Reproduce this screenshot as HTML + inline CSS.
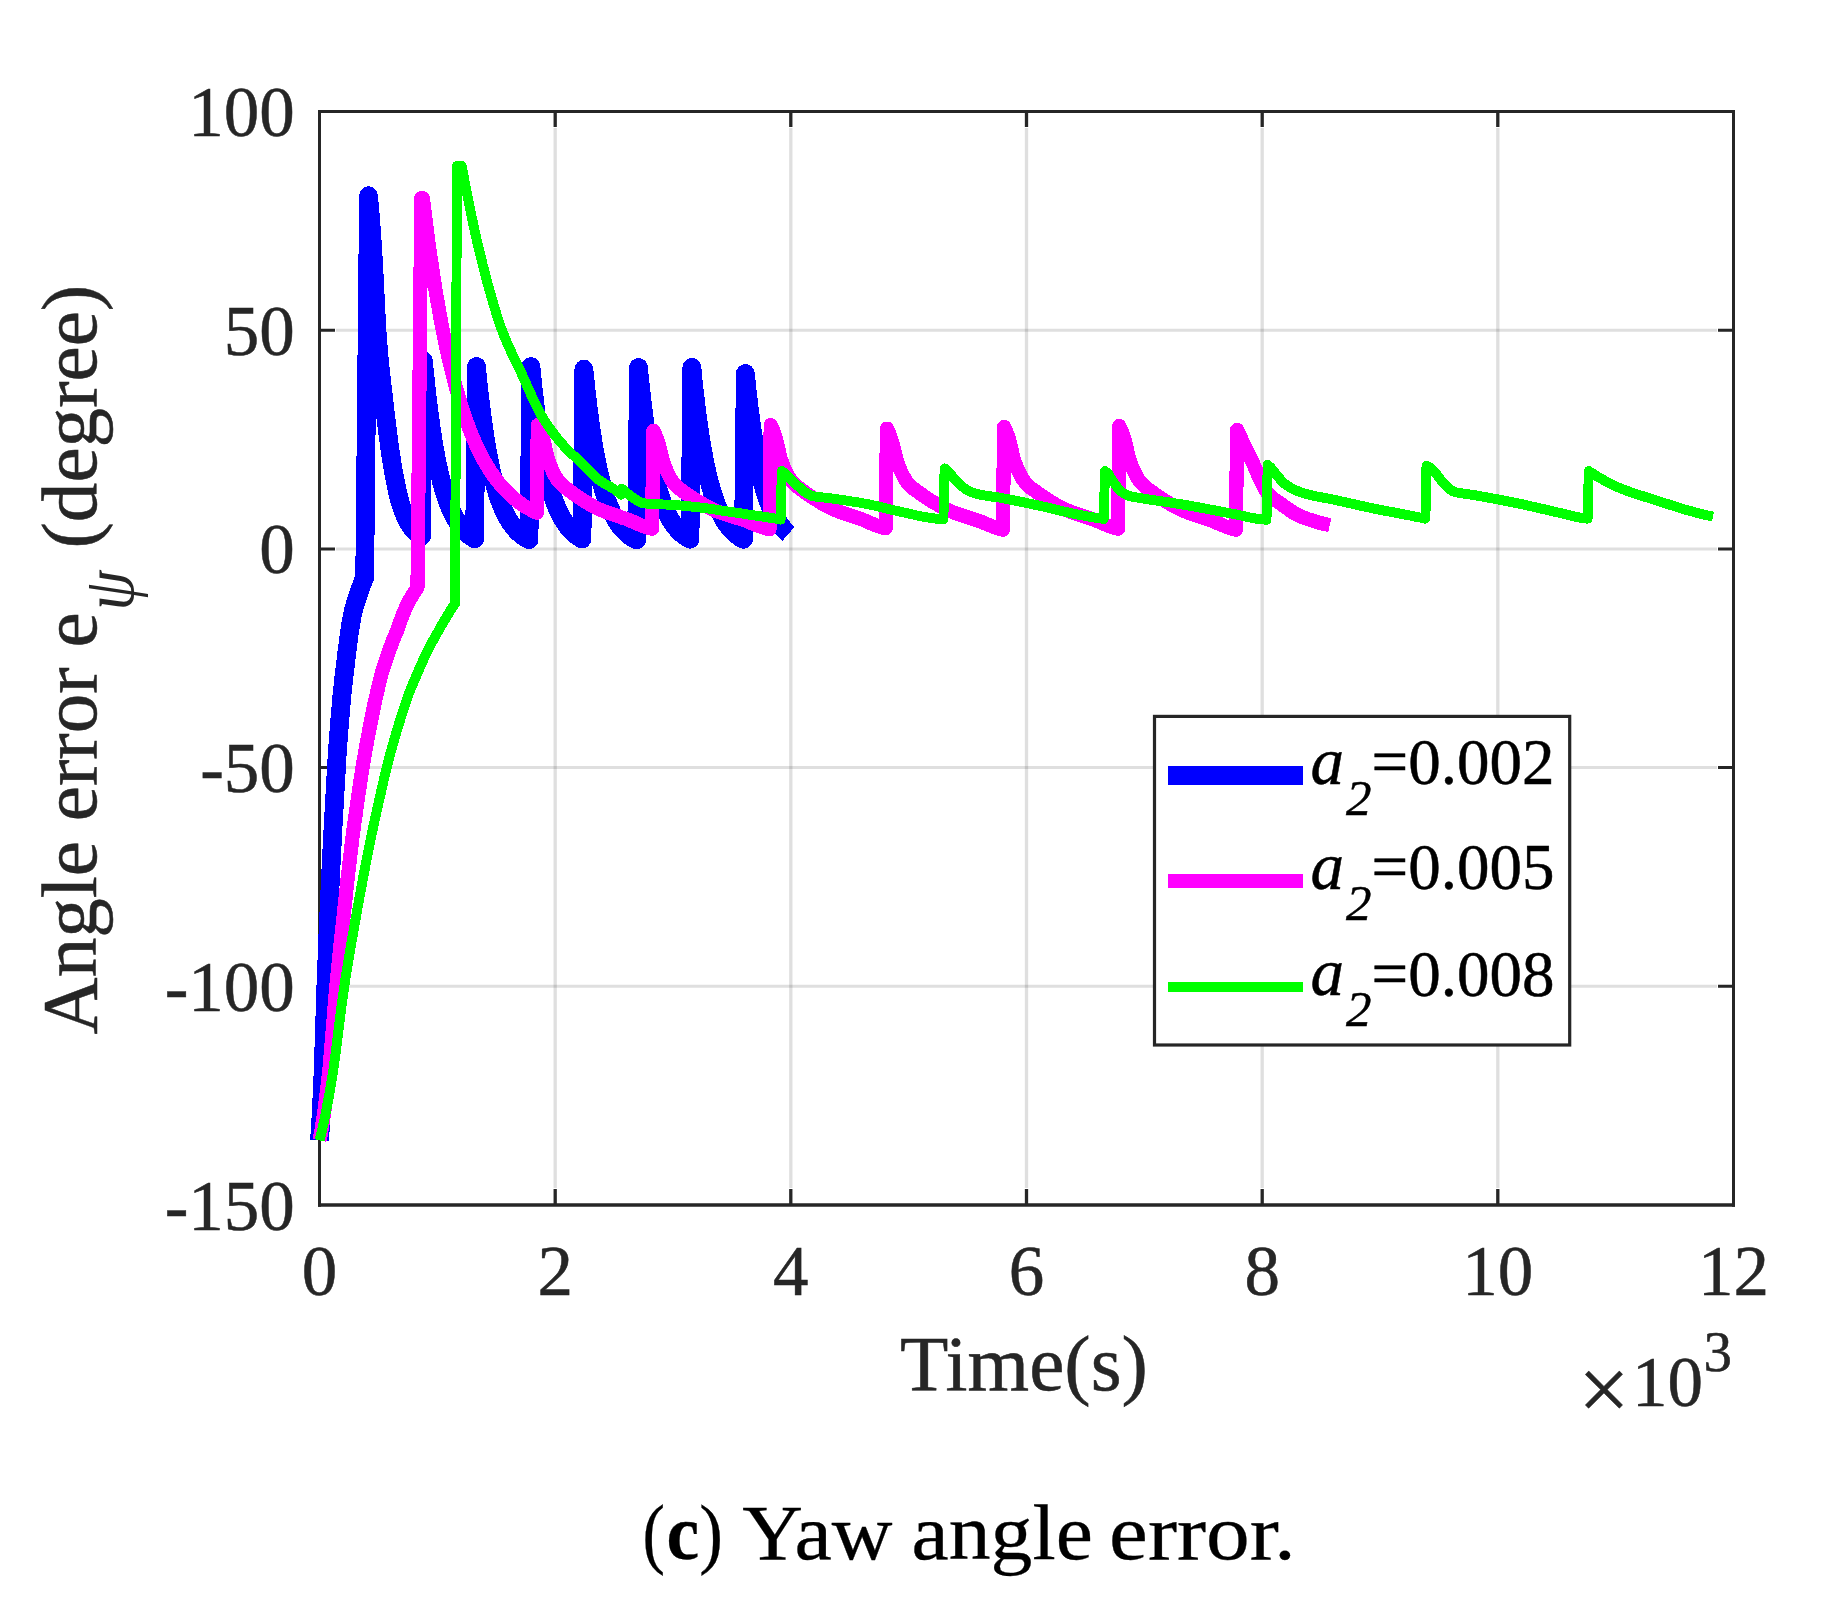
<!DOCTYPE html>
<html lang="en"><head><meta charset="utf-8"><title>Yaw angle error</title>
<style>html,body{margin:0;padding:0;background:#fff}svg{display:block}text{font-family:'Liberation Serif',serif;fill:#262626;stroke:#262626;stroke-width:.5px}.tk{font-size:71px}.lb{font-size:79.2px}.lg{font-size:64px;fill:#000}.cap text{stroke:#000;stroke-width:.3px}</style></head><body>
<svg width="1848" height="1608" viewBox="0 0 1848 1608">
<rect width="1848" height="1608" fill="#fff"/>
<path d="M555.2 128V1188M790.8 128V1188M1026.5 128V1188M1262.2 128V1188M1497.8 128V1188" stroke="#262626" stroke-opacity=".15" stroke-width="3.3" fill="none"/>
<path d="M336 330.2H1717M336 548.9H1717M336 767.6H1717M336 986.3H1717" stroke="#262626" stroke-opacity=".15" stroke-width="3" fill="none"/>
<path d="M318 111.5H1735M319.5 110V1206.8M1733.5 110V1206.8" stroke="#262626" stroke-width="3" fill="none"/>
<path d="M318 1205H1735" stroke="#262626" stroke-width="3.7" fill="none"/>
<path d="M555.2 1204V1189M555.2 112V127M790.8 1204V1189M790.8 112V127M1026.5 1204V1189M1026.5 112V127M1262.2 1204V1189M1262.2 112V127M1497.8 1204V1189M1497.8 112V127" stroke="#262626" stroke-width="3.3" fill="none"/>
<path d="M320 330.2H335M1733 330.2H1718M320 548.9H335M1733 548.9H1718M320 767.6H335M1733 767.6H1718M320 986.3H335M1733 986.3H1718" stroke="#262626" stroke-width="3" fill="none"/>
<g fill="none" stroke-linejoin="round" stroke-linecap="butt" shape-rendering="crispEdges">
<path d="M319.5 1140.3L320.3 1129.4L321.0 1116.2L321.8 1101.0L322.6 1084.3L323.3 1065.2L324.1 1041.6L324.9 1016.4L325.6 992.6L326.4 972.2L327.2 953.1L327.9 934.9L328.7 917.3L329.5 900.3L330.2 883.6L331.0 867.6L331.8 852.1L332.5 837.2L333.3 823.1L334.1 809.6L334.8 796.0L335.6 782.0L336.4 768.5L337.1 756.3L337.9 744.9L338.7 734.2L339.4 724.3L340.2 715.0L341.0 706.2L341.7 697.9L342.5 690.1L343.3 682.8L344.0 676.0L344.8 669.5L345.6 663.1L346.3 656.7L347.1 650.4L347.9 644.3L348.6 638.4L349.4 632.9L350.2 627.8L350.9 623.0L351.7 618.6L352.5 614.6L353.2 611.1L354.0 608.1L354.8 605.4L355.5 602.9L356.3 600.5L357.1 598.2L357.8 595.9L358.6 593.6L359.4 591.4L360.1 589.2L360.9 587.1L361.7 585.0L362.4 583.0L363.2 581.0L364.0 579.1L364.7 577.3L368.5 195.7L369.4 205.3L370.3 216.0L371.2 227.6L372.1 240.1L373.0 253.7L373.9 270.0L374.8 288.1L375.7 306.5L376.6 323.6L377.5 338.0L378.4 349.2L379.3 359.1L380.2 368.1L381.1 376.4L382.0 384.3L382.9 392.0L383.8 399.9L384.7 407.7L385.6 415.4L386.5 422.9L387.4 430.2L388.3 437.2L389.2 443.9L390.1 450.3L391.0 456.4L391.9 462.1L392.8 467.6L393.7 472.7L394.6 477.5L395.5 482.2L396.4 486.7L397.3 491.0L398.2 495.0L399.1 498.6L400.0 501.7L400.9 504.6L401.8 507.4L402.7 509.9L403.6 512.4L404.5 514.6L405.4 516.7L406.3 518.7L407.2 520.5L408.1 522.1L409.0 523.6L409.9 525.1L410.8 526.4L411.7 527.7L412.6 528.8L413.5 529.9L414.4 530.8L415.3 531.7L416.2 532.5L417.1 533.3L417.9 534.0L418.8 534.7L419.7 535.3L420.6 535.8L421.5 536.2L423.4 360.8L424.3 369.9L425.2 378.5L426.0 386.7L426.9 394.5L427.8 402.0L428.6 409.0L429.5 415.8L430.4 422.2L431.2 428.3L432.1 434.1L433.0 439.6L433.8 444.9L434.7 449.9L435.6 454.7L436.4 459.2L437.3 463.5L438.2 467.6L439.0 471.6L439.9 475.3L440.8 478.8L441.6 482.2L442.5 485.4L443.4 488.5L444.2 491.4L445.1 494.2L446.0 496.8L446.8 499.3L447.7 501.7L448.6 504.0L449.4 506.1L450.3 508.2L451.2 510.2L452.0 512.0L452.9 513.8L453.8 515.5L454.6 517.1L455.5 518.6L456.4 520.1L457.2 521.5L458.1 522.8L459.0 524.1L459.8 525.2L460.7 526.4L461.6 527.5L462.4 528.5L463.3 529.5L464.2 530.4L465.0 531.3L465.9 532.2L466.8 533.0L467.6 533.7L468.5 534.5L469.4 535.2L470.2 535.8L471.1 536.5L472.0 537.1L472.8 537.6L473.7 538.2L474.6 538.7L476.5 366.5L477.3 375.5L478.2 384.1L479.1 392.3L480.0 400.0L480.9 407.4L481.8 414.4L482.7 421.0L483.6 427.4L484.5 433.4L485.4 439.1L486.3 444.5L487.1 449.7L488.0 454.6L488.9 459.3L489.8 463.7L490.7 467.9L491.6 471.9L492.5 475.7L493.4 479.3L494.3 482.8L495.2 486.0L496.1 489.2L496.9 492.1L497.8 494.9L498.7 497.6L499.6 500.1L500.5 502.5L501.4 504.8L502.3 507.0L503.2 509.1L504.1 511.1L505.0 512.9L505.8 514.7L506.7 516.4L507.6 518.0L508.5 519.5L509.4 521.0L510.3 522.4L511.2 523.7L512.1 524.9L513.0 526.1L513.9 527.2L514.8 528.3L515.6 529.3L516.5 530.3L517.4 531.2L518.3 532.1L519.2 532.9L520.1 533.7L521.0 534.5L521.9 535.2L522.8 535.9L523.7 536.5L524.6 537.1L525.4 537.7L526.3 538.3L527.2 538.8L528.1 539.3L529.0 539.8L530.9 366.5L531.8 375.3L532.6 383.7L533.5 391.6L534.4 399.2L535.2 406.4L536.1 413.3L537.0 419.8L537.8 426.0L538.7 431.9L539.6 437.6L540.4 442.9L541.3 448.0L542.2 452.9L543.0 457.5L543.9 461.9L544.8 466.1L545.6 470.1L546.5 473.9L547.4 477.5L548.2 480.9L549.1 484.2L550.0 487.3L550.8 490.3L551.7 493.1L552.6 495.8L553.4 498.4L554.3 500.8L555.2 503.1L556.0 505.3L556.9 507.4L557.8 509.4L558.6 511.3L559.5 513.1L560.4 514.9L561.2 516.5L562.1 518.1L563.0 519.5L563.8 521.0L564.7 522.3L565.6 523.6L566.4 524.8L567.3 526.0L568.2 527.1L569.0 528.1L569.9 529.1L570.8 530.1L571.6 531.0L572.5 531.8L573.4 532.7L574.2 533.4L575.1 534.2L576.0 534.9L576.8 535.6L577.7 536.2L578.6 536.8L579.4 537.4L580.3 538.0L581.2 538.5L582.0 539.0L583.9 369.1L584.8 378.0L585.7 386.5L586.6 394.6L587.5 402.2L588.4 409.5L589.3 416.4L590.2 423.0L591.1 429.2L592.0 435.1L592.8 440.8L593.7 446.1L594.6 451.2L595.5 456.1L596.4 460.7L597.3 465.1L598.2 469.2L599.1 473.2L600.0 476.9L600.9 480.5L601.8 483.9L602.7 487.1L603.6 490.2L604.5 493.1L605.3 495.8L606.2 498.5L607.1 501.0L608.0 503.4L608.9 505.6L609.8 507.8L610.7 509.8L611.6 511.7L612.5 513.6L613.4 515.3L614.3 517.0L615.2 518.6L616.1 520.1L616.9 521.5L617.8 522.9L618.7 524.2L619.6 525.4L620.5 526.5L621.4 527.7L622.3 528.7L623.2 529.7L624.1 530.7L625.0 531.6L625.9 532.4L626.8 533.2L627.7 534.0L628.6 534.8L629.4 535.5L630.3 536.1L631.2 536.8L632.1 537.4L633.0 537.9L633.9 538.5L634.8 539.0L635.7 539.5L636.6 539.9L638.5 367.4L639.3 376.2L640.2 384.6L641.1 392.5L642.0 400.1L642.8 407.3L643.7 414.2L644.6 420.7L645.5 426.9L646.3 432.9L647.2 438.5L648.1 443.8L648.9 448.9L649.8 453.8L650.7 458.4L651.6 462.8L652.4 467.0L653.3 470.9L654.2 474.7L655.1 478.3L655.9 481.7L656.8 485.0L657.7 488.1L658.5 491.0L659.4 493.8L660.3 496.5L661.2 499.1L662.0 501.5L662.9 503.8L663.8 506.0L664.7 508.0L665.5 510.0L666.4 511.9L667.3 513.7L668.1 515.4L669.0 517.0L669.9 518.6L670.8 520.1L671.6 521.4L672.5 522.8L673.4 524.0L674.3 525.3L675.1 526.4L676.0 527.5L676.9 528.5L677.7 529.5L678.6 530.5L679.5 531.4L680.4 532.2L681.2 533.0L682.1 533.8L683.0 534.5L683.9 535.2L684.7 535.9L685.6 536.5L686.5 537.1L687.3 537.7L688.2 538.2L689.1 538.7L690.0 539.2L691.9 367.4L692.7 376.2L693.6 384.6L694.5 392.6L695.4 400.2L696.2 407.4L697.1 414.3L698.0 420.8L698.9 427.1L699.7 433.0L700.6 438.6L701.5 444.0L702.4 449.1L703.2 453.9L704.1 458.5L705.0 462.9L705.8 467.1L706.7 471.1L707.6 474.9L708.5 478.5L709.3 481.9L710.2 485.1L711.1 488.2L712.0 491.2L712.8 494.0L713.7 496.7L714.6 499.2L715.5 501.6L716.3 503.9L717.2 506.1L718.1 508.2L719.0 510.2L719.8 512.0L720.7 513.8L721.6 515.5L722.5 517.2L723.3 518.7L724.2 520.2L725.1 521.6L726.0 522.9L726.8 524.2L727.7 525.4L728.6 526.5L729.5 527.6L730.3 528.6L731.2 529.6L732.1 530.6L733.0 531.4L733.8 532.3L734.7 533.1L735.6 533.9L736.5 534.6L737.3 535.3L738.2 536.0L739.1 536.6L740.0 537.2L740.8 537.8L741.7 538.3L742.6 538.8L743.5 539.3L745.3 373.5L746.1 380.7L746.8 387.5L747.5 394.1L748.3 400.4L749.0 406.5L749.7 412.3L750.5 417.8L751.2 423.2L751.9 428.3L752.7 433.2L753.4 437.9L754.1 442.5L754.9 446.8L755.6 451.0L756.3 455.0L757.0 458.8L757.8 462.5L758.5 466.0L759.2 469.4L760.0 472.6L760.7 475.7L761.4 478.7L762.2 481.6L762.9 484.3L763.6 487.0L764.4 489.5L765.1 491.9L765.8 494.2L766.5 496.5L767.3 498.6L768.0 500.6L768.7 502.6L769.5 504.5L770.2 506.3L770.9 508.1L771.7 509.7L772.4 511.3L773.1 512.8L773.9 514.3L774.6 515.7L775.3 517.1L776.1 518.4L776.8 519.6L777.5 520.8L778.2 522.0L779.0 523.1L779.7 524.1L780.4 525.1L781.2 526.1L781.9 527.0L782.6 527.9L783.4 528.8L784.1 529.6L784.8 530.4L785.6 531.1L786.3 531.9L787.0 532.6L787.7 533.2L788.5 533.9" stroke="#0000ff" stroke-width="18.8"/>
<path d="M319.5 1140.3L321.2 1131.9L322.8 1121.8L324.5 1110.2L326.1 1097.4L327.8 1083.6L329.5 1068.2L331.1 1049.4L332.8 1028.8L334.5 1008.0L336.1 988.8L337.8 971.6L339.4 955.1L341.1 939.2L342.8 923.7L344.4 908.4L346.1 893.2L347.7 878.0L349.4 863.2L351.1 848.9L352.7 835.6L354.4 823.1L356.1 811.2L357.7 799.7L359.4 788.2L361.0 777.0L362.7 766.4L364.4 756.6L366.0 747.2L367.7 738.2L369.3 729.4L371.0 721.0L372.7 712.7L374.3 704.7L376.0 697.0L377.7 689.7L379.3 682.7L381.0 676.0L382.6 670.0L384.3 664.7L386.0 660.0L387.6 655.2L389.3 650.4L391.0 645.7L392.6 641.3L394.3 637.3L395.9 633.4L397.6 629.2L399.3 624.6L400.9 619.7L402.6 615.2L404.2 611.2L405.9 607.4L407.6 603.9L409.2 600.7L410.9 597.8L412.6 595.0L414.2 592.4L415.9 590.0L417.5 587.8L421.3 198.1L422.8 198.1L424.8 214.0L426.7 229.1L428.6 243.6L430.6 257.3L432.5 270.4L434.4 282.8L436.3 294.7L438.3 306.0L440.2 316.7L442.1 327.0L444.1 336.7L446.0 346.0L447.9 354.8L449.8 363.3L451.8 371.3L453.7 378.9L455.6 386.2L457.6 393.1L459.5 399.7L461.4 406.0L463.4 412.0L465.3 417.7L467.2 423.1L469.1 428.3L471.1 433.2L473.0 437.9L474.9 442.3L476.9 446.6L478.8 450.6L480.7 454.5L482.6 458.1L484.6 461.6L486.5 465.0L488.4 468.1L490.4 471.2L492.3 474.0L494.2 476.8L496.2 479.4L498.1 481.9L500.0 484.2L501.9 486.5L503.9 488.6L505.8 490.7L507.7 492.6L509.7 494.4L511.6 496.2L513.5 497.9L515.4 499.5L517.4 501.0L519.3 502.5L521.2 503.8L523.2 505.2L525.1 506.4L527.0 507.6L528.9 508.7L530.9 509.8L532.8 510.8L534.7 511.8L536.7 512.8L537.8 425.1L539.8 429.3L541.7 434.6L543.7 440.8L545.6 449.4L547.5 457.8L549.5 463.5L551.4 468.3L553.3 472.5L555.3 476.2L557.2 479.4L559.2 481.9L561.1 484.0L563.0 485.8L565.0 487.4L566.9 488.8L568.8 490.3L570.8 491.7L572.7 493.2L574.7 494.6L576.6 495.9L578.5 497.2L580.5 498.5L582.4 499.8L584.3 501.0L586.3 502.2L588.2 503.3L590.2 504.5L592.1 505.6L594.0 506.7L596.0 507.7L597.9 508.7L599.8 509.5L601.8 510.4L603.7 511.1L605.6 511.9L607.6 512.6L609.5 513.2L611.5 513.9L613.4 514.5L615.3 515.2L617.3 515.9L619.2 516.5L621.1 517.2L623.1 517.9L625.0 518.5L627.0 519.2L628.9 520.0L630.8 520.8L632.8 521.6L634.7 522.4L636.6 523.3L638.6 524.2L640.5 525.0L642.5 525.7L644.4 526.4L646.3 527.1L648.3 527.7L650.2 528.3L652.1 528.8L653.3 430.8L655.3 434.8L657.3 439.8L659.2 445.7L661.2 453.9L663.2 461.9L665.1 467.2L667.1 471.8L669.1 475.8L671.0 479.3L673.0 482.3L675.0 484.7L677.0 486.7L678.9 488.4L680.9 489.9L682.9 491.3L684.8 492.6L686.8 494.0L688.8 495.4L690.7 496.7L692.7 498.0L694.7 499.3L696.6 500.5L698.6 501.7L700.6 502.8L702.6 503.9L704.5 505.1L706.5 506.1L708.5 507.2L710.4 508.2L712.4 509.2L714.4 510.1L716.3 511.0L718.3 511.7L720.3 512.5L722.2 513.2L724.2 513.8L726.2 514.5L728.2 515.1L730.1 515.7L732.1 516.3L734.1 517.0L736.0 517.6L738.0 518.2L740.0 518.8L741.9 519.5L743.9 520.1L745.9 520.8L747.8 521.6L749.8 522.4L751.8 523.2L753.8 524.0L755.7 524.8L757.7 525.6L759.7 526.3L761.6 527.0L763.6 527.6L765.6 528.2L767.5 528.7L769.5 529.2L770.7 425.1L772.6 429.3L774.6 434.6L776.5 440.8L778.5 449.3L780.4 457.7L782.4 463.3L784.3 468.1L786.3 472.3L788.2 476.0L790.2 479.1L792.1 481.7L794.1 483.8L796.0 485.6L798.0 487.1L799.9 488.6L801.9 490.0L803.8 491.5L805.8 492.9L807.7 494.3L809.7 495.6L811.6 496.9L813.6 498.2L815.5 499.4L817.5 500.6L819.4 501.8L821.4 503.0L823.3 504.1L825.3 505.3L827.2 506.3L829.2 507.3L831.1 508.3L833.1 509.2L835.0 510.0L837.0 510.8L838.9 511.5L840.9 512.2L842.8 512.9L844.8 513.5L846.7 514.2L848.7 514.8L850.6 515.5L852.6 516.2L854.5 516.8L856.5 517.5L858.4 518.1L860.3 518.8L862.3 519.6L864.2 520.3L866.2 521.2L868.1 522.0L870.1 522.9L872.0 523.7L874.0 524.5L875.9 525.3L877.9 526.0L879.8 526.7L881.8 527.3L883.7 527.8L885.7 528.3L886.9 428.6L888.8 432.7L890.8 437.9L892.8 443.9L894.7 452.3L896.7 460.5L898.7 466.0L900.6 470.7L902.6 474.8L904.6 478.4L906.5 481.5L908.5 484.0L910.5 486.0L912.4 487.8L914.4 489.3L916.4 490.7L918.3 492.1L920.3 493.5L922.3 494.9L924.2 496.3L926.2 497.6L928.2 498.9L930.1 500.2L932.1 501.4L934.1 502.5L936.0 503.7L938.0 504.8L940.0 506.0L941.9 507.1L943.9 508.1L945.9 509.1L947.9 510.0L949.8 510.9L951.8 511.7L953.8 512.5L955.7 513.2L957.7 513.9L959.7 514.5L961.6 515.1L963.6 515.8L965.6 516.4L967.5 517.1L969.5 517.7L971.5 518.4L973.4 519.0L975.4 519.7L977.4 520.3L979.3 521.1L981.3 521.8L983.3 522.6L985.2 523.5L987.2 524.3L989.2 525.1L991.1 525.9L993.1 526.7L995.1 527.4L997.0 528.0L999.0 528.6L1001.0 529.1L1002.9 529.7L1004.1 426.9L1006.0 431.0L1008.0 436.2L1009.9 442.3L1011.8 450.8L1013.8 459.0L1015.7 464.6L1017.6 469.3L1019.6 473.5L1021.5 477.1L1023.4 480.2L1025.4 482.7L1027.3 484.8L1029.2 486.6L1031.1 488.1L1033.1 489.5L1035.0 490.9L1036.9 492.4L1038.9 493.8L1040.8 495.1L1042.7 496.5L1044.7 497.8L1046.6 499.0L1048.5 500.3L1050.5 501.4L1052.4 502.6L1054.3 503.8L1056.3 504.9L1058.2 506.0L1060.1 507.0L1062.0 508.1L1064.0 509.0L1065.9 509.9L1067.8 510.7L1069.8 511.4L1071.7 512.2L1073.6 512.8L1075.6 513.5L1077.5 514.1L1079.4 514.8L1081.4 515.4L1083.3 516.1L1085.2 516.8L1087.2 517.4L1089.1 518.0L1091.0 518.7L1093.0 519.4L1094.9 520.1L1096.8 520.9L1098.7 521.7L1100.7 522.5L1102.6 523.4L1104.5 524.2L1106.5 525.0L1108.4 525.8L1110.3 526.5L1112.3 527.1L1114.2 527.7L1116.1 528.3L1118.1 528.8L1119.2 426.0L1121.2 430.2L1123.2 435.5L1125.2 441.7L1127.1 450.3L1129.1 458.7L1131.1 464.3L1133.1 469.2L1135.1 473.4L1137.0 477.1L1139.0 480.2L1141.0 482.8L1143.0 484.9L1144.9 486.7L1146.9 488.3L1148.9 489.7L1150.9 491.1L1152.8 492.6L1154.8 494.0L1156.8 495.4L1158.8 496.8L1160.8 498.1L1162.7 499.4L1164.7 500.6L1166.7 501.8L1168.7 503.0L1170.6 504.2L1172.6 505.4L1174.6 506.5L1176.6 507.5L1178.6 508.6L1180.5 509.5L1182.5 510.4L1184.5 511.2L1186.5 512.0L1188.4 512.7L1190.4 513.4L1192.4 514.1L1194.4 514.8L1196.3 515.4L1198.3 516.1L1200.3 516.8L1202.3 517.4L1204.3 518.1L1206.2 518.7L1208.2 519.4L1210.2 520.1L1212.2 520.8L1214.1 521.6L1216.1 522.5L1218.1 523.3L1220.1 524.2L1222.0 525.0L1224.0 525.8L1226.0 526.6L1228.0 527.3L1230.0 528.0L1231.9 528.6L1233.9 529.1L1235.9 529.7L1237.1 429.9L1239.0 433.9L1240.9 437.9L1242.7 442.0L1244.6 446.1L1246.5 450.0L1248.4 453.8L1250.3 457.5L1252.2 461.4L1254.1 465.6L1256.0 470.1L1257.9 474.7L1259.8 478.9L1261.7 482.7L1263.6 486.4L1265.5 489.8L1267.3 492.8L1269.2 495.0L1271.1 496.9L1273.0 498.4L1274.9 499.8L1276.8 501.0L1278.7 502.3L1280.6 503.6L1282.5 504.9L1284.4 506.3L1286.3 507.7L1288.2 509.0L1290.1 510.4L1292.0 511.7L1293.8 512.9L1295.7 514.0L1297.6 515.0L1299.5 515.9L1301.4 516.7L1303.3 517.5L1305.2 518.2L1307.1 518.9L1309.0 519.5L1310.9 520.1L1312.8 520.7L1314.7 521.3L1316.6 521.8L1318.4 522.4L1320.3 522.9L1322.2 523.4L1324.1 523.8L1326.0 524.3L1327.9 524.7L1329.8 525.1" stroke="#ff00ff" stroke-width="14.2"/>
<path d="M319.5 1140.3L321.8 1131.2L324.1 1120.9L326.4 1109.6L328.7 1097.3L331.0 1084.3L333.3 1070.0L335.6 1053.3L337.9 1035.1L340.2 1016.5L342.5 998.8L344.8 982.9L347.1 968.4L349.4 954.5L351.7 941.2L354.0 928.2L356.2 915.5L358.5 902.9L360.8 890.3L363.1 877.9L365.4 865.8L367.7 854.0L370.0 842.5L372.3 831.4L374.6 820.7L376.9 810.3L379.2 800.1L381.5 789.8L383.8 779.6L386.1 769.8L388.4 760.8L390.7 752.2L393.0 743.9L395.3 736.0L397.6 728.3L399.9 720.8L402.2 713.4L404.5 706.3L406.8 699.5L409.1 693.1L411.4 687.2L413.7 681.9L416.0 676.5L418.3 671.1L420.6 665.9L422.9 660.8L425.2 655.9L427.4 651.2L429.7 646.7L432.0 642.4L434.3 638.2L436.6 634.1L438.9 630.1L441.2 626.0L443.5 622.0L445.8 618.1L448.1 614.3L450.4 610.6L452.7 607.0L455.0 603.6L457.0 165.7L461.6 165.7L464.3 179.8L467.0 193.5L469.7 207.0L472.4 220.2L475.1 232.7L477.8 244.5L480.5 255.8L483.2 266.7L485.9 277.2L488.6 287.2L491.4 296.8L494.1 306.2L496.8 315.1L499.5 323.4L502.2 330.9L504.9 337.7L507.6 344.0L510.3 350.0L513.0 355.7L515.7 361.2L518.4 366.8L521.1 372.5L523.8 378.4L526.5 384.4L529.2 390.5L531.9 396.5L534.6 402.4L537.3 407.9L540.0 413.1L542.7 417.7L545.4 421.9L548.1 425.9L550.8 429.8L553.5 433.4L556.3 436.9L559.0 440.3L561.7 443.4L564.4 446.5L567.1 449.4L569.8 452.1L572.5 454.6L575.2 457.0L577.9 459.6L580.6 462.3L583.3 465.0L586.0 467.8L588.7 470.6L591.4 473.3L594.1 475.8L596.8 478.2L599.5 480.4L602.2 482.2L604.9 483.8L607.6 485.3L610.3 486.9L613.0 488.5L615.7 490.3L618.4 492.4L621.2 494.7L621.5 488.5L624.2 490.8L626.9 493.0L629.6 495.1L632.3 497.2L635.0 499.1L637.7 500.8L640.4 502.3L643.1 503.2L645.8 503.5L648.5 503.8L651.2 504.0L653.9 504.1L656.6 504.2L659.3 504.3L661.9 504.4L664.6 504.5L667.3 504.6L670.0 504.7L672.7 504.9L675.4 505.1L678.1 505.3L680.8 505.5L683.5 505.8L686.2 506.0L688.9 506.3L691.6 506.6L694.3 506.9L697.0 507.2L699.7 507.5L702.4 507.8L705.1 508.2L707.8 508.5L710.5 508.9L713.2 509.3L715.9 509.7L718.6 510.1L721.3 510.5L724.0 510.9L726.7 511.3L729.4 511.7L732.1 512.1L734.7 512.5L737.4 512.9L740.1 513.3L742.8 513.6L745.5 514.0L748.2 514.5L750.9 514.9L753.6 515.3L756.3 515.7L759.0 516.1L761.7 516.5L764.4 516.9L767.1 517.3L769.8 517.7L772.5 518.2L775.2 518.6L777.9 519.1L780.6 519.6L781.8 471.0L785.1 473.6L788.4 476.6L791.7 479.7L795.0 483.1L798.3 486.3L801.6 489.3L804.9 491.9L808.2 494.2L811.5 495.9L814.8 496.5L818.1 497.0L821.4 497.3L824.7 497.6L828.0 498.0L831.3 498.4L834.5 498.9L837.8 499.3L841.1 499.8L844.4 500.3L847.7 500.8L851.0 501.3L854.3 501.8L857.6 502.3L860.9 502.9L864.2 503.5L867.5 504.1L870.8 504.8L874.1 505.5L877.4 506.3L880.7 507.1L884.0 507.9L887.3 508.7L890.6 509.5L893.9 510.3L897.2 511.0L900.5 511.7L903.8 512.5L907.1 513.2L910.4 514.0L913.7 514.7L917.0 515.5L920.3 516.2L923.6 516.8L926.9 517.4L930.2 517.9L933.5 518.3L936.8 518.7L940.1 518.9L943.4 519.2L944.6 468.4L947.9 471.1L951.1 474.8L954.4 478.7L957.6 482.3L960.8 485.3L964.1 488.0L967.3 490.2L970.6 491.7L973.8 493.0L977.1 494.0L980.3 494.7L983.6 495.3L986.8 495.8L990.1 496.3L993.3 496.8L996.6 497.2L999.8 497.7L1003.1 498.3L1006.3 498.9L1009.6 499.5L1012.8 500.2L1016.1 500.8L1019.3 501.5L1022.6 502.1L1025.8 502.8L1029.1 503.5L1032.3 504.2L1035.6 504.9L1038.8 505.6L1042.1 506.3L1045.3 507.0L1048.6 507.8L1051.8 508.6L1055.1 509.4L1058.3 510.2L1061.6 511.0L1064.8 511.7L1068.1 512.5L1071.3 513.2L1074.6 513.9L1077.8 514.6L1081.1 515.2L1084.3 515.8L1087.6 516.4L1090.8 516.9L1094.1 517.5L1097.3 518.0L1100.5 518.5L1103.8 518.9L1105.0 471.0L1108.3 474.1L1111.6 479.1L1114.9 484.1L1118.2 488.6L1121.5 491.8L1124.8 494.1L1128.1 495.7L1131.4 496.6L1134.6 497.2L1137.9 497.7L1141.2 498.3L1144.5 498.8L1147.8 499.3L1151.1 499.8L1154.4 500.3L1157.7 500.8L1161.0 501.3L1164.3 501.7L1167.6 502.2L1170.9 502.7L1174.2 503.2L1177.5 503.7L1180.8 504.2L1184.1 504.8L1187.4 505.3L1190.7 505.9L1194.0 506.5L1197.3 507.1L1200.6 507.7L1203.9 508.3L1207.2 508.9L1210.5 509.6L1213.8 510.2L1217.1 510.8L1220.4 511.5L1223.7 512.1L1227.0 512.7L1230.3 513.4L1233.6 514.0L1236.9 514.6L1240.2 515.3L1243.4 516.0L1246.7 516.8L1250.0 517.5L1253.3 518.1L1256.6 518.7L1259.9 519.2L1263.2 519.5L1266.5 519.8L1267.7 464.9L1270.9 467.7L1274.1 471.7L1277.4 475.8L1280.6 479.7L1283.8 483.1L1287.0 485.5L1290.2 487.5L1293.4 489.2L1296.7 490.7L1299.9 492.0L1303.1 493.1L1306.3 494.0L1309.5 494.9L1312.8 495.6L1316.0 496.3L1319.2 496.9L1322.4 497.5L1325.6 498.1L1328.8 498.7L1332.1 499.3L1335.3 500.0L1338.5 500.7L1341.7 501.4L1344.9 502.1L1348.1 502.9L1351.4 503.6L1354.6 504.3L1357.8 505.1L1361.0 505.8L1364.2 506.5L1367.4 507.2L1370.7 507.9L1373.9 508.6L1377.1 509.2L1380.3 509.9L1383.5 510.5L1386.8 511.1L1390.0 511.7L1393.2 512.3L1396.4 512.9L1399.6 513.5L1402.8 514.1L1406.1 514.8L1409.3 515.4L1412.5 516.0L1415.7 516.7L1418.9 517.3L1422.1 518.0L1425.4 518.7L1426.5 465.8L1429.8 467.4L1433.1 470.2L1436.4 474.0L1439.7 478.4L1443.0 482.6L1446.3 486.2L1449.6 489.1L1452.8 491.3L1456.1 492.3L1459.4 493.0L1462.7 493.5L1466.0 493.9L1469.3 494.4L1472.6 494.9L1475.9 495.4L1479.1 496.0L1482.4 496.6L1485.7 497.2L1489.0 497.8L1492.3 498.4L1495.6 499.0L1498.9 499.6L1502.2 500.2L1505.4 500.9L1508.7 501.5L1512.0 502.2L1515.3 502.9L1518.6 503.5L1521.9 504.2L1525.2 505.0L1528.5 505.7L1531.7 506.4L1535.0 507.2L1538.3 507.9L1541.6 508.7L1544.9 509.4L1548.2 510.2L1551.5 511.0L1554.7 511.7L1558.0 512.5L1561.3 513.3L1564.6 514.1L1567.9 514.9L1571.2 515.8L1574.5 516.5L1577.8 517.2L1581.0 517.8L1584.3 518.3L1587.6 518.7L1588.8 471.0L1591.3 472.7L1593.9 474.3L1596.4 475.9L1598.9 477.4L1601.5 478.9L1604.0 480.3L1606.5 481.7L1609.1 483.1L1611.6 484.4L1614.1 485.6L1616.7 486.7L1619.2 487.8L1621.8 488.8L1624.3 489.8L1626.8 490.8L1629.4 491.7L1631.9 492.6L1634.4 493.5L1637.0 494.3L1639.5 495.1L1642.0 495.9L1644.6 496.7L1647.1 497.5L1649.6 498.3L1652.2 499.1L1654.7 499.9L1657.2 500.7L1659.8 501.5L1662.3 502.4L1664.8 503.2L1667.4 504.0L1669.9 504.8L1672.4 505.6L1675.0 506.4L1677.5 507.2L1680.0 508.0L1682.6 508.8L1685.1 509.6L1687.7 510.3L1690.2 511.0L1692.7 511.7L1695.3 512.4L1697.8 513.1L1700.3 513.7L1702.9 514.3L1705.4 514.9L1707.9 515.5L1710.5 516.0L1713.0 516.5" stroke="#00ff00" stroke-width="9.9"/>
</g>
<text class="tk" x="294.8" y="136.0" text-anchor="end">100</text>
<text class="tk" x="294.8" y="354.7" text-anchor="end">50</text>
<text class="tk" x="294.8" y="573.4" text-anchor="end">0</text>
<text class="tk" x="294.8" y="792.1" text-anchor="end">-50</text>
<text class="tk" x="294.8" y="1010.8" text-anchor="end">-100</text>
<text class="tk" x="294.8" y="1229.5" text-anchor="end">-150</text>
<text class="tk" x="319.5" y="1294.5" text-anchor="middle">0</text>
<text class="tk" x="555.2" y="1294.5" text-anchor="middle">2</text>
<text class="tk" x="790.8" y="1294.5" text-anchor="middle">4</text>
<text class="tk" x="1026.5" y="1294.5" text-anchor="middle">6</text>
<text class="tk" x="1262.2" y="1294.5" text-anchor="middle">8</text>
<text class="tk" x="1497.8" y="1294.5" text-anchor="middle">10</text>
<text class="tk" x="1733.5" y="1294.5" text-anchor="middle">12</text>
<text class="lb" x="1023.9" y="1389.9" text-anchor="middle">Time(s)</text>
<text x="1578.2" y="1419.7" style="font-size:91px">×</text>
<text class="tk" x="1631.9" y="1406">10</text>
<text x="1703.4" y="1370.5" style="font-size:57px">3</text>
<g transform="translate(95.5 1034.5) rotate(-90)">
<text class="lb" x="0" y="0">Angle error e</text>
<text transform="translate(424 37) scale(1 1.12)" style="font-size:64px;font-style:italic;stroke:none">ψ</text>
<text class="lb" x="486" y="0">(degree)</text>
</g>
<rect x="1154.5" y="716.4" width="415.2" height="328.6" fill="#fff" stroke="#262626" stroke-width="3.2"/>
<path d="M1167.9 775.3H1303.1" stroke="#0000ff" stroke-width="18.8" shape-rendering="crispEdges"/>
<text x="1310.5" y="783.7" style="font-size:67px;font-style:italic;fill:#000;stroke:#000">a</text>
<text x="1346" y="814.7" style="font-size:51px;font-style:italic;fill:#000;stroke:#000">2</text>
<text x="1371.5" y="783.9" style="font-size:65px;fill:#000;stroke:#000">=0.002</text>
<path d="M1167.9 880.7H1303.1" stroke="#ff00ff" stroke-width="14.2" shape-rendering="crispEdges"/>
<text x="1310.5" y="889.1" style="font-size:67px;font-style:italic;fill:#000;stroke:#000">a</text>
<text x="1346" y="920.1" style="font-size:51px;font-style:italic;fill:#000;stroke:#000">2</text>
<text x="1371.5" y="889.3" style="font-size:65px;fill:#000;stroke:#000">=0.005</text>
<path d="M1167.9 986.9H1303.1" stroke="#00ff00" stroke-width="9.9" shape-rendering="crispEdges"/>
<text x="1310.5" y="995.3" style="font-size:67px;font-style:italic;fill:#000;stroke:#000">a</text>
<text x="1346" y="1026.3" style="font-size:51px;font-style:italic;fill:#000;stroke:#000">2</text>
<text x="1371.5" y="995.5" style="font-size:65px;fill:#000;stroke:#000">=0.008</text>
<g class="cap" style="font-size:79px;fill:#000">
<text transform="translate(642.6 1559.1) scale(0.852 1)" style="fill:#000">(</text>
<text transform="translate(666.4 1559.1) scale(0.933 1)" style="fill:#000;font-weight:bold">c</text>
<text transform="translate(699.3 1559.1) scale(0.900 1)" style="fill:#000">)</text>
<text transform="translate(742.2 1559.1) scale(1.064 1)" style="fill:#000">Yaw</text>
<text transform="translate(911.5 1559.1) scale(1.060 1)" style="fill:#000">angle</text>
<text transform="translate(1109.1 1559.1) scale(1.106 1)" style="fill:#000">error.</text>
</g>
</svg></body></html>
